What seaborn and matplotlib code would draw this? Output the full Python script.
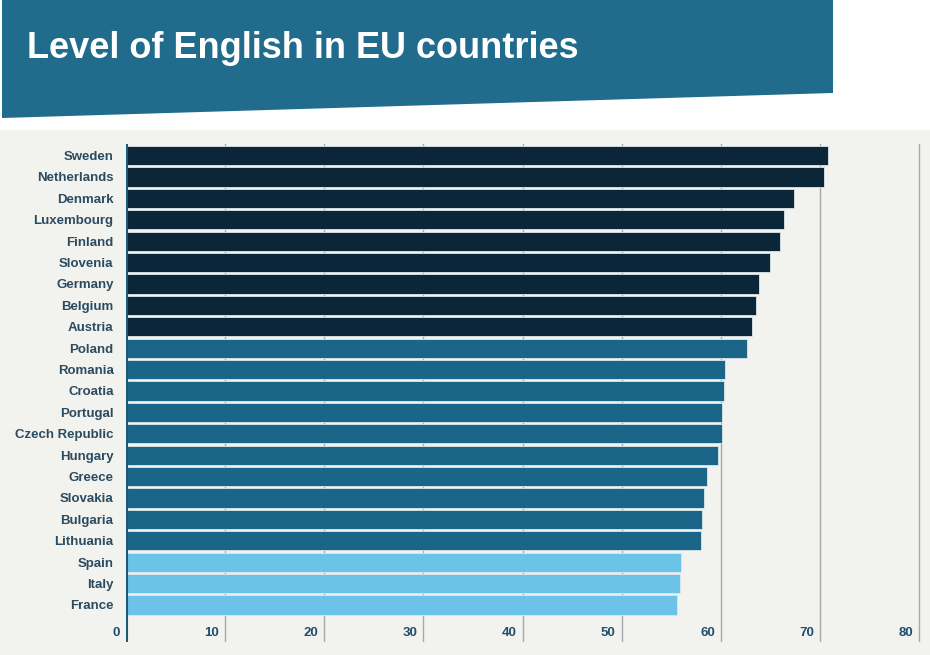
import matplotlib
matplotlib.use("Agg")
import matplotlib.pyplot as plt
import matplotlib.patches as mpatches
import seaborn as sns
import pandas as pd

# ---- data ----
countries = ["Sweden", "Netherlands", "Denmark", "Luxembourg", "Finland", "Slovenia",
             "Germany", "Belgium", "Austria", "Poland", "Romania", "Croatia", "Portugal",
             "Czech Republic", "Hungary", "Greece", "Slovakia", "Bulgaria", "Lithuania",
             "Spain", "Italy", "France"]
scores = [70.8, 70.4, 67.4, 66.4, 66.0, 65.0, 63.9, 63.6, 63.2, 62.6, 60.4, 60.3, 60.1,
          60.1, 59.7, 58.6, 58.3, 58.1, 58.0, 56.0, 55.9, 55.6]
levels = ["high"] * 9 + ["mid"] * 10 + ["low"] * 3
x_ticks = [0, 10, 20, 30, 40, 50, 60, 70, 80]

palette = {"high": "#0a2638", "mid": "#1b6688", "low": "#6bc4e8"}
label_col = "#2b4b61"
panel_bg = "#f2f2ee"

df = pd.DataFrame({"country": countries, "score": scores, "level": levels})

sns.set_style("white")
plt.rcParams["font.family"] = ["Liberation Sans", "DejaVu Sans"]

W, H = 930, 655
fig = plt.figure(figsize=(W / 100, H / 100), dpi=100)
fig.patch.set_facecolor("white")

# background panel + title banner (figure pixel coords)
fig.patches.append(mpatches.Rectangle((0, 0), 1, (H - 130) / H, transform=fig.transFigure,
                                      facecolor=panel_bg, edgecolor="none", zorder=-2))
banner = [(2, 0), (833, 0), (833, 93), (2, 118)]
fig.patches.append(mpatches.Polygon([(x / W, 1 - y / H) for x, y in banner], closed=True,
                                    transform=fig.transFigure, facecolor="#216b8c",
                                    edgecolor="none", zorder=-1))
fig.text(27 / W, 1 - 48 / H, "Level of English in EU countries", color="white",
         fontsize=26, fontweight="bold", va="center", ha="left")

left, right, top, bottom = 126, 922, 144, 642
ax = fig.add_axes([left / W, 1 - bottom / H, (right - left) / W, (bottom - top) / H])
ax.set_zorder(2)
ax.set_facecolor(panel_bg)

sns.barplot(data=df, y="country", x="score", hue="level", palette=palette, orient="h",
            saturation=1, width=0.9, edgecolor="#dde7eb", linewidth=0.6, legend=False,
            ax=ax, zorder=3)

ax.set_xlim(0, 80.3)
ax.set_ylim(len(countries) - 1 + 1.73, -0.54)

for t in x_ticks[1:]:
    ax.axvline(t, color="#a3abb0", lw=1, zorder=1)
ax.axvline(0, color="#1d5a78", lw=2.2, zorder=4)

for t in x_ticks:
    ax.text(t - 0.6, len(countries) - 1 + 1.3, str(t), ha="right", va="center",
            fontsize=9.5, fontweight="bold", color="#1f4e6e")

ax.set_xticks([])
ax.set_xlabel("")
ax.set_ylabel("")
ax.tick_params(axis="y", length=0, pad=9)
for lab in ax.get_yticklabels():
    lab.set_fontweight("bold")
    lab.set_fontsize(9.5)
    lab.set_color(label_col)
for s in ax.spines.values():
    s.set_visible(False)

fig.savefig("out.png", dpi=100)
